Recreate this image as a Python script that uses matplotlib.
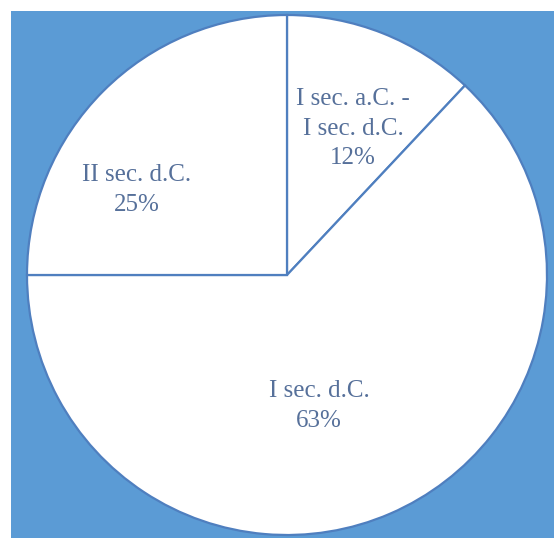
import matplotlib
matplotlib.use('Agg')
import matplotlib.pyplot as plt
import numpy as np

# Share of finds by period
periods = ['I sec. a.C. -\nI sec. d.C.', 'I sec. d.C.', 'II sec. d.C.']
shares = [12, 63, 25]

bg_blue = '#5b9bd5'
edge_blue = '#4f7fbf'
text_blue = '#56709a'

fig = plt.figure(figsize=(5.54, 5.38), dpi=100)
fig.patch.set_facecolor('white')

# blue panel leaves a thin white strip on the left and top
ax = fig.add_axes([11 / 554, 0, 543 / 554, 527 / 538])
ax.set_facecolor(bg_blue)

wedges, texts = ax.pie(
    shares,
    labels=[f'{p}\n{s}%' for p, s in zip(periods, shares)],
    startangle=90,
    counterclock=False,
    radius=1.0,
    colors=['white'] * 3,
    wedgeprops=dict(edgecolor=edge_blue, linewidth=1.6),
    textprops=dict(color=text_blue, family='Liberation Serif', fontsize=18),
    labeldistance=0.6,
    frame=True,
)

# radial distance and angular shift of each label inside its wedge
label_r = [0.617, 0.519, 0.663]
label_shift = [-2.7, -9.7, 15.5]
for w, t, r, d in zip(wedges, texts, label_r, label_shift):
    ang = np.deg2rad((w.theta1 + w.theta2) / 2 + d)
    t.set_position((r * np.cos(ang), r * np.sin(ang)))
    t.set_ha('center')
    t.set_va('center')
    t.set_multialignment('center')
    t.set_linespacing(1.45)

ax.set_xlim(-276 / 260, 267 / 260)
ax.set_ylim(-263 / 260, 264 / 260)
ax.set_aspect('equal')
ax.set_xticks([])
ax.set_yticks([])
for s in ax.spines.values():
    s.set_visible(False)

plt.savefig('out.png', dpi=100, facecolor=fig.get_facecolor())
